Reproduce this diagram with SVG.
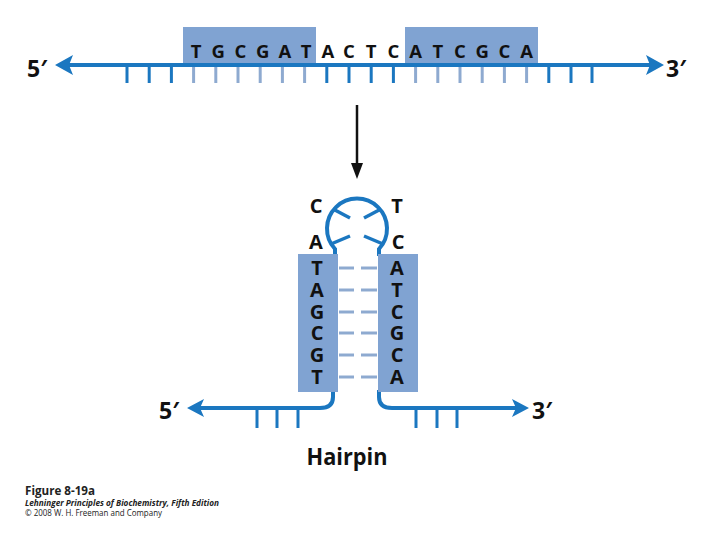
<svg xmlns="http://www.w3.org/2000/svg" width="720" height="540" viewBox="0 0 720 540">
<style>
.strand{fill:none;stroke:#1b77c0;stroke-width:4;stroke-linecap:butt}
.tick{stroke:#1b77c0;stroke-width:3}
.ltick{stroke:#8eaad0;stroke-width:3}
.box{fill:#80a3d2}
.head{fill:#1b77c0}
.base{font-family:"Open Sans","DejaVu Sans",sans-serif;font-weight:700;fill:#111;text-anchor:middle}
.top{font-size:18.5px}
.hp{font-size:20px}
.end{font-family:"Open Sans","DejaVu Sans",sans-serif;font-weight:700;font-size:23px;fill:#111}
.spoke{stroke:#1b77c0;stroke-width:3.5;stroke-linecap:butt}
.foot{font-family:"Open Sans","Liberation Sans",sans-serif;fill:#222}
</style>
<rect width="720" height="540" fill="#fff"/>

<g id="top-strand">
  <rect class="box" x="183" y="27" width="133" height="39"/>
  <rect class="box" x="405" y="27" width="133" height="39"/>
  <line class="strand" x1="66" y1="65" x2="652" y2="65"/>
  <polygon class="head" points="55,65 73,55 69,65 73,75"/>
  <polygon class="head" points="664,65 646,55 650,65 646,75"/>
  <g class="tick">
    <line x1="127" y1="66" x2="127" y2="83"/><line x1="149.2" y1="66" x2="149.2" y2="83"/><line x1="171.4" y1="66" x2="171.4" y2="83"/>
    <line x1="326.8" y1="66" x2="326.8" y2="83"/><line x1="349" y1="66" x2="349" y2="83"/><line x1="371.2" y1="66" x2="371.2" y2="83"/><line x1="393.4" y1="66" x2="393.4" y2="83"/>
    <line x1="548.8" y1="66" x2="548.8" y2="83"/><line x1="571" y1="66" x2="571" y2="83"/><line x1="592" y1="66" x2="592" y2="83"/>
  </g>
  <g class="ltick">
    <line x1="193.6" y1="67" x2="193.6" y2="83"/><line x1="215.8" y1="67" x2="215.8" y2="83"/><line x1="238" y1="67" x2="238" y2="83"/><line x1="260.2" y1="67" x2="260.2" y2="83"/><line x1="282.4" y1="67" x2="282.4" y2="83"/><line x1="304.6" y1="67" x2="304.6" y2="83"/>
    <line x1="415.6" y1="67" x2="415.6" y2="83"/><line x1="437.8" y1="67" x2="437.8" y2="83"/><line x1="460" y1="67" x2="460" y2="83"/><line x1="482.2" y1="67" x2="482.2" y2="83"/><line x1="504.4" y1="67" x2="504.4" y2="83"/><line x1="526.6" y1="67" x2="526.6" y2="83"/>
  </g>
  <g class="base top">
    <text x="196" y="58">T</text><text x="218.2" y="58">G</text><text x="240.4" y="58">C</text><text x="262.6" y="58">G</text><text x="284.8" y="58">A</text><text x="306" y="58">T</text>
    <text x="327.8" y="58">A</text><text x="349" y="58">C</text><text x="371.2" y="58">T</text><text x="393.4" y="58">C</text>
    <text x="415.6" y="58">A</text><text x="437.8" y="58">T</text><text x="460" y="58">C</text><text x="482.2" y="58">G</text><text x="504.4" y="58">C</text><text x="526.6" y="58">A</text>
  </g>
  <text class="end" x="27" y="77">5′</text>
  <text class="end" x="666" y="77">3′</text>
</g>

<g id="connectors">
  <line x1="357" y1="105" x2="357" y2="166" stroke="#111" stroke-width="2.5"/>
  <polygon points="357,179 351,163 363,163" fill="#111"/>
</g>

<g id="hairpin">
  <path class="strand" d="M 335 256 L 335 249 A 30 30 0 1 1 379 249 L 379 256"/>
  <line class="spoke" x1="333" y1="209" x2="350" y2="218"/>
  <line class="spoke" x1="331" y1="244" x2="350" y2="236"/>
  <line class="spoke" x1="381" y1="209" x2="364" y2="218"/>
  <line class="spoke" x1="383" y1="244" x2="364" y2="236"/>
  <path class="strand" d="M 333 390 L 333 397 Q 333 408 320 408 L 198 408"/>
  <path class="strand" d="M 379 390 L 379 397 Q 379 408 392 408 L 517 408"/>
  <polygon class="head" points="187,408 204,399 200,408 204,417"/>
  <polygon class="head" points="529,408 512,399 516,408 512,417"/>
  <g class="tick">
    <line x1="257" y1="408" x2="257" y2="428"/><line x1="277" y1="408" x2="277" y2="428"/><line x1="298" y1="408" x2="298" y2="428"/>
    <line x1="416" y1="408" x2="416" y2="428"/><line x1="437" y1="408" x2="437" y2="428"/><line x1="457" y1="408" x2="457" y2="428"/>
  </g>
  <rect class="box" x="298" y="254" width="40" height="138"/>
  <rect class="box" x="378" y="254" width="40" height="138"/>
  <g class="ltick">
    <line x1="339" y1="268" x2="354" y2="268"/><line x1="361" y1="268" x2="377" y2="268"/>
    <line x1="339" y1="290" x2="354" y2="290"/><line x1="361" y1="290" x2="377" y2="290"/>
    <line x1="339" y1="312" x2="354" y2="312"/><line x1="361" y1="312" x2="377" y2="312"/>
    <line x1="339" y1="333" x2="354" y2="333"/><line x1="361" y1="333" x2="377" y2="333"/>
    <line x1="339" y1="355" x2="354" y2="355"/><line x1="361" y1="355" x2="377" y2="355"/>
    <line x1="339" y1="377" x2="354" y2="377"/><line x1="361" y1="377" x2="377" y2="377"/>
  </g>
  <g class="base hp">
    <text x="316" y="213">C</text><text x="397" y="213">T</text>
    <text x="316" y="249">A</text><text x="398" y="249">C</text>
    <text x="317" y="275">T</text><text x="317" y="297">A</text><text x="317" y="319">G</text><text x="317" y="340">C</text><text x="317" y="362">G</text><text x="317" y="384">T</text>
    <text x="397" y="275">A</text><text x="397" y="297">T</text><text x="397" y="319">C</text><text x="397" y="340">G</text><text x="397" y="362">C</text><text x="397" y="384">A</text>
  </g>
  <text class="end" x="159" y="419">5′</text>
  <text class="end" x="532" y="419">3′</text>
  <text class="end" x="347" y="465" text-anchor="middle" textLength="81" lengthAdjust="spacingAndGlyphs">Hairpin</text>
</g>

<g id="caption">
  <text class="foot" x="25" y="495" font-size="13" font-weight="700" textLength="70" lengthAdjust="spacingAndGlyphs">Figure 8-19a</text>
  <text class="foot" x="25" y="505.5" font-size="9" font-weight="700" font-style="italic" textLength="194" lengthAdjust="spacingAndGlyphs">Lehninger Principles of Biochemistry, Fifth Edition</text>
  <text class="foot" x="25" y="516" font-size="8.5" textLength="137" lengthAdjust="spacingAndGlyphs">© 2008 W. H. Freeman and Company</text>
</g>
</svg>
